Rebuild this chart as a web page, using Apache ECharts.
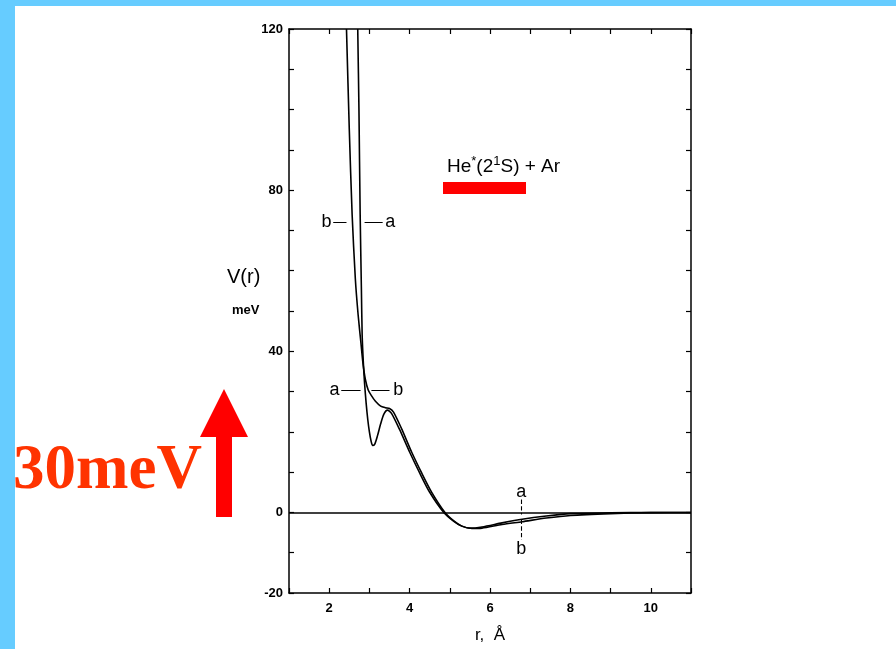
<!DOCTYPE html>
<html><head><meta charset="utf-8">
<script src="https://cdn.jsdelivr.net/npm/echarts@6/dist/echarts.min.js"></script>
<style>html,body{margin:0;padding:0;background:#fff}#c{width:896px;height:649px}</style>
</head><body><div id="c"></div>
<script>
// Curve a (r in Å, V in meV)
const rA = [2.71, 2.74, 2.77, 2.80, 2.82, 2.85, 2.88, 2.92, 2.96, 3.00, 3.04, 3.08, 3.13, 3.20, 3.28, 3.36, 3.45, 3.55, 3.75, 4.00, 4.25, 4.50, 4.85, 5.10, 5.30, 5.50, 5.80, 6.30, 6.80, 7.40, 8.00, 9.00, 10.00, 11.00];
const vA = [120, 100, 74, 56, 44, 37, 32, 27, 23, 20, 17.8, 16.6, 16.9, 19.0, 22.0, 24.4, 25.4, 24.6, 20.6, 15.0, 9.8, 5.0, 0, -2.2, -3.4, -3.9, -3.6, -2.6, -1.7, -0.9, -0.3, -0.1, 0, 0];
// Curve b
const rB = [2.43, 2.50, 2.57, 2.65, 2.72, 2.79, 2.84, 2.90, 2.97, 3.05, 3.15, 3.28, 3.40, 3.50, 3.60, 3.80, 4.05, 4.30, 4.55, 4.88, 5.10, 5.30, 5.55, 5.80, 6.30, 6.80, 7.40, 8.00, 9.00, 10.00, 11.00];
const vB = [120, 95, 74, 58, 49, 42, 37, 33, 30.4, 29.0, 27.6, 26.4, 26.0, 25.8, 24.9, 20.8, 15.0, 9.8, 5.0, 0, -2.1, -3.4, -4.0, -3.9, -3.0, -2.3, -1.4, -0.75, -0.3, -0.05, 0];
// Tick labels
const yTickLabels = [120, 80, 40, 0, -20];
const xTickLabels = [2, 4, 6, 8, 10];
// Curve labels: [r, V, text]
const curveLabels = [[1.93, 72, 'b'], [3.52, 72, 'a'], [2.13, 30.3, 'a'], [3.72, 30.3, 'b'], [6.78, 5, 'a'], [6.78, -9.2, 'b']];
// Leader segments: [r1, V1, r2, V2]
const leaders = [[2.1, 72, 2.43, 72], [2.88, 72, 3.33, 72], [2.3, 30.3, 2.78, 30.3], [3.05, 30.3, 3.5, 30.3], [6.78, 3.2, 6.78, -0.5], [6.78, -1.8, 6.78, -6.8]];

const chart = echarts.init(document.getElementById('c'));
const font = 'Liberation Sans, Arial, sans-serif';
const axisCommon = {
  axisLine: {show: true, onZero: false, lineStyle: {color: '#000', width: 1.5}},
  axisTick: {show: true, inside: true, length: 5, lineStyle: {color: '#000', width: 1.2}},
  splitLine: {show: false}
};
chart.setOption({
  animation: false,
  backgroundColor: '#fff',
  grid: {left: 289, right: 205, top: 29, bottom: 55},
  xAxis: [
    Object.assign({}, axisCommon, {type: 'value', min: 1, max: 11, interval: 1, position: 'bottom',
      axisLabel: {show: true, margin: 9, color: '#000', fontFamily: font, fontWeight: 'bold', fontSize: 13,
        formatter: v => xTickLabels.includes(v) ? String(v) : ''},
      name: 'r,  Å', nameLocation: 'middle', nameGap: 34,
      nameTextStyle: {color: '#000', fontFamily: font, fontSize: 17}}),
    Object.assign({}, axisCommon, {type: 'value', min: 1, max: 11, interval: 1, position: 'top',
      axisLabel: {show: false}})
  ],
  yAxis: [
    Object.assign({}, axisCommon, {type: 'value', min: -20, max: 120, interval: 10, position: 'left',
      axisLabel: {show: true, margin: 6, color: '#000', fontFamily: font, fontWeight: 'bold', fontSize: 13,
        formatter: v => yTickLabels.includes(v) ? String(v) : ''}}),
    Object.assign({}, axisCommon, {type: 'value', min: -20, max: 120, interval: 10, position: 'right',
      axisLabel: {show: false}})
  ],
  series: [
    {name: 'a', type: 'line', data: rA.map((r, i) => [r, vA[i]]), showSymbol: false, smooth: 0.25,
      lineStyle: {color: '#000', width: 1.6}, clip: true,
      markLine: {silent: true, symbol: 'none', label: {show: false},
        lineStyle: {color: '#000', width: 1.5, type: 'solid'},
        data: [{yAxis: 0}]}},
    {name: 'b', type: 'line', data: rB.map((r, i) => [r, vB[i]]), showSymbol: false, smooth: 0.25,
      lineStyle: {color: '#000', width: 1.6}, clip: true},
    {name: 'leaders', type: 'lines', coordinateSystem: 'cartesian2d', polyline: false,
      data: leaders.map((s, i) => ({coords: [[s[0], s[1]], [s[2], s[3]]],
        lineStyle: {type: i >= 4 ? 'dashed' : 'solid'}})),
      lineStyle: {color: '#000', width: 1.1, opacity: 1}},
    {name: 'labels', type: 'scatter', symbolSize: 0, itemStyle: {opacity: 1},
      data: curveLabels.map(d => ({value: [d[0], d[1]], name: d[2]})),
      label: {show: true, position: 'inside', formatter: p => p.name, color: '#000', fontFamily: font, fontSize: 18}}
  ],
  graphic: [
    {type: 'rect', left: 0, top: 0, shape: {width: 15, height: 649}, style: {fill: '#66ccff'}},
    {type: 'rect', left: 0, top: 0, shape: {width: 896, height: 6}, style: {fill: '#66ccff'}},
    {type: 'text', left: 447, top: 155, style: {
      text: '{n|He}{s|*}{n|(2}{s|1}{n|S) + Ar}',
      rich: {n: {fontFamily: font, fontSize: 19, fill: '#000', verticalAlign: 'bottom'},
             s: {fontFamily: font, fontSize: 13, fill: '#000', verticalAlign: 'top', padding: [0, 0, 8, 0]}}}},
    {type: 'rect', left: 443, top: 182, shape: {width: 83, height: 12}, style: {fill: '#ff0000'}},
    {type: 'text', left: 227, top: 267, style: {text: 'V(r)', fontFamily: font, fontSize: 20, fill: '#000'}},
    {type: 'text', left: 232, top: 304, style: {text: 'meV', fontFamily: font, fontSize: 13, fontWeight: 'bold', fill: '#000'}},
    {type: 'text', left: 13, top: 440, style: {text: '30meV', fontFamily: 'Liberation Serif, Times New Roman, serif', fontSize: 63, fontWeight: 'bold', fill: '#ff3300'}},
    {type: 'polygon', shape: {points: [[200, 437], [224, 389], [248, 437], [232, 437], [232, 517], [216, 517], [216, 437]]}, style: {fill: '#ff0000'}}
  ]
});
</script></body></html>
